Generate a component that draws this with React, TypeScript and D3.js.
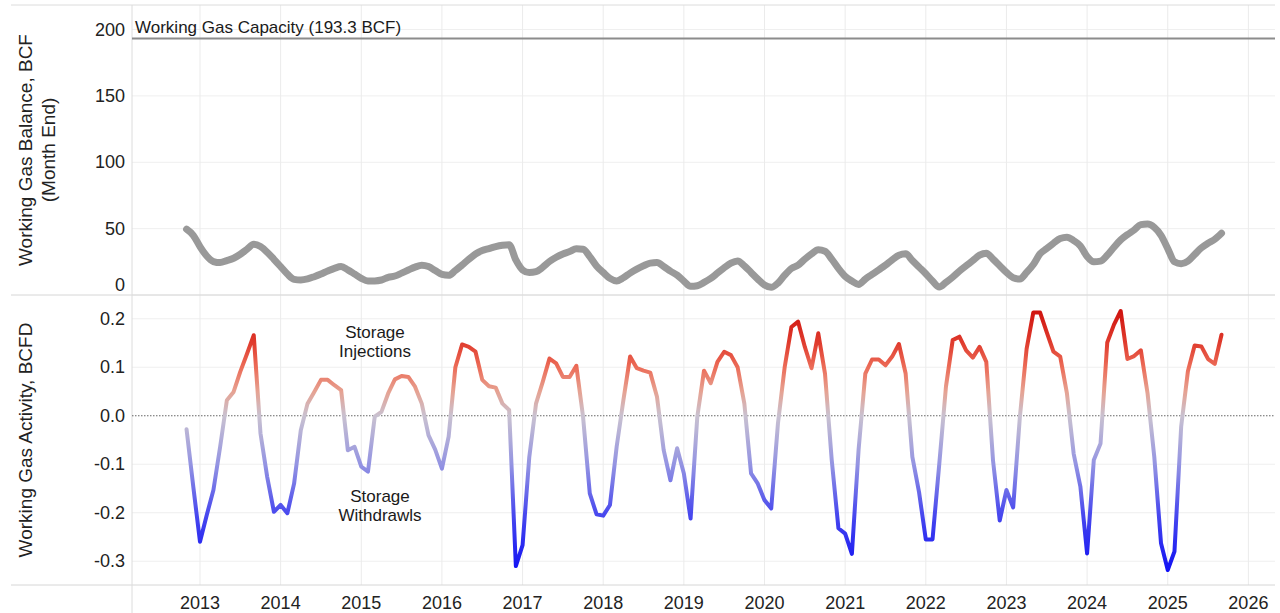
import React from "react";
import * as d3 from "d3";

// ---------- data ----------
const START_YEAR = 2012;
const START_MONTH = 11; // November 2012

// Working gas balance, BCF (month end)
const balance: number[] = [
  49.6, 45, 36.5, 29.4, 25.2, 24.4, 25.9, 27.7, 30.7, 34.5, 38.2, 36.5,
  32.2, 26.9, 21.4, 15.8, 11.8, 11.3, 12.1, 13.8, 15.8, 18.1, 20.1, 21.4,
  18.9, 15.8, 12.6, 10.6, 10.6, 11.3, 13.3, 14.3, 16.5, 18.8, 21, 22.4,
  21.4, 18.4, 15.5, 14.8, 18.4, 22.6, 26.9, 30.9, 33.5, 35, 36.5, 37.5,
  37.9, 26.4, 18.9, 16.9, 17.6, 20.9, 25.2, 28.4, 30.9, 32.7, 34.8, 34.5,
  28.9, 21.9, 17, 12.5, 10.6, 13, 16.5, 19.5, 22, 24, 24.4, 21.5,
  18, 15, 10.5, 6.5, 7, 9.5, 12.5, 16.5, 20.5, 24, 25.7, 22,
  17, 12, 7.5, 5.8, 9, 15, 20, 22.5, 27, 31, 34, 33,
  27, 20, 14, 10.5, 8, 12, 15.5, 19, 22.5, 26.5, 30, 31,
  26, 21, 16, 10.5, 6, 9.5, 13.5, 18, 22, 26, 30, 31.5,
  27, 22, 17, 13, 12, 17, 23, 31, 35, 39, 42.5, 43.5,
  41, 37, 29, 25, 25.5, 30, 36, 41.5, 45.5, 49, 53, 53.5,
  51, 45, 35, 25, 23.5, 25.5, 30.5, 35.5, 39, 42, 46.5,
];

// Working gas activity, BCFD
const activity: number[] = [
  -0.028, -0.146, -0.26, -0.205, -0.153, -0.064, 0.032, 0.049, 0.091, 0.128, 0.166, -0.036,
  -0.126, -0.198, -0.184, -0.201, -0.14, -0.03, 0.025, 0.049, 0.074, 0.074, 0.063, 0.053,
  -0.071, -0.064, -0.105, -0.115, -0.002, 0.008, 0.046, 0.075, 0.082, 0.08, 0.06, 0.025,
  -0.04, -0.07, -0.109, -0.043, 0.1, 0.147, 0.142, 0.132, 0.074, 0.061, 0.058, 0.025,
  0.012, -0.31, -0.267, -0.085, 0.025, 0.07, 0.118, 0.108, 0.08, 0.08, 0.103, -0.002,
  -0.16, -0.203, -0.206, -0.184, -0.064, 0.032, 0.122, 0.098, 0.093, 0.089, 0.039, -0.071,
  -0.133, -0.067, -0.119, -0.212, -0.002, 0.093, 0.067, 0.111, 0.132, 0.125, 0.1, 0.025,
  -0.119, -0.14, -0.174, -0.191, -0.016, 0.1, 0.183, 0.194, 0.142, 0.098, 0.17, 0.087,
  -0.091, -0.232, -0.243, -0.285, -0.07, 0.087, 0.116, 0.116, 0.104, 0.122, 0.148, 0.087,
  -0.085, -0.158, -0.255, -0.255, -0.1, 0.06, 0.156, 0.163, 0.135, 0.12, 0.142, 0.111,
  -0.092, -0.216, -0.153, -0.189, -0.002, 0.138, 0.213, 0.213, 0.172, 0.132, 0.122, 0.046,
  -0.078, -0.146, -0.284, -0.091, -0.057, 0.151, 0.188, 0.216, 0.117, 0.123, 0.135, 0.046,
  -0.085, -0.263, -0.318, -0.28, -0.022, 0.092, 0.145, 0.143, 0.117, 0.107, 0.167,
];

const yearTicks: number[] = [2013, 2014, 2015, 2016, 2017, 2018, 2019, 2020, 2021, 2022, 2023, 2024, 2025, 2026];
const balanceTicks: number[] = [0, 50, 100, 150, 200];
const activityTicks: number[] = [-0.3, -0.2, -0.1, 0.0, 0.1, 0.2];
const CAPACITY = 193.3;
const capacityLabel = "Working Gas Capacity (193.3 BCF)";

// colour ramp for activity (value -> colour)
const rampValues: number[] = [-0.349, -0.3, -0.2, -0.1, 0, 0.05, 0.1, 0.15, 0.249];
const rampColors: string[] = ["#0000ff", "#1a1af2", "#4a4aee", "#9494e2", "#c9c1d0", "#e6a292", "#ec6c58", "#e03c2e", "#c80000"];

// ---------- layout ----------
const W = 1280;
const H = 613;
const LEFT = 132;
const RIGHT = 1275;
const TOP = 5;
const MID = 295;
const BOTTOM = 585;
const FONT = "Arial, 'Liberation Sans', sans-serif";

const dates = activity.map((_, i) => START_YEAR + (START_MONTH - 1 + i) / 12);

export default function App() {
  const x = d3.scaleLinear().domain([2012.157, 2026.33]).range([LEFT, RIGHT]);
  const yTop = d3.scaleLinear().domain([0, 218.5]).range([MID, TOP]);
  const yBot = d3.scaleLinear().domain([-0.349, 0.249]).range([BOTTOM, MID]);

  const balLine = d3
    .line<number>()
    .x((_, i) => x(dates[i]))
    .y((d) => yTop(d))
    .curve(d3.curveMonotoneX);
  const actLine = d3
    .line<number>()
    .x((_, i) => x(dates[i]))
    .y((d) => yBot(d));

  const fmt = (v: number) => d3.format(".1f")(v).replace("\u2212", "-");
  const gy1 = yBot(-0.349);
  const gy2 = yBot(0.249);

  return (
    <svg
      width={W}
      height={H}
      style={{ position: "absolute", left: 0, top: 0, background: "#fff", fontFamily: FONT }}
    >
      <defs>
        <linearGradient id="actGrad" gradientUnits="userSpaceOnUse" x1={0} x2={0} y1={gy1} y2={gy2}>
          {rampValues.map((v, i) => (
            <stop key={i} offset={(yBot(v) - gy1) / (gy2 - gy1)} stopColor={rampColors[i]} />
          ))}
        </linearGradient>
      </defs>
      <rect x={0} y={0} width={W} height={H} fill="#fff" />

      {/* horizontal grid */}
      {balanceTicks.map((t) => (
        <line key={"bg" + t} x1={LEFT} x2={RIGHT} y1={yTop(t)} y2={yTop(t)} stroke="#efefef" strokeWidth={1} />
      ))}
      {activityTicks.filter((t) => t !== 0).map((t) => (
        <line key={"ag" + t} x1={LEFT} x2={RIGHT} y1={yBot(t)} y2={yBot(t)} stroke="#efefef" strokeWidth={1} />
      ))}
      {/* vertical grid */}
      {yearTicks.map((t) => (
        <line key={"vg" + t} x1={x(t)} x2={x(t)} y1={TOP} y2={BOTTOM} stroke="#ebebeb" strokeWidth={1} />
      ))}

      {/* panel borders */}
      <line x1={11} x2={RIGHT} y1={TOP} y2={TOP} stroke="#dcdcdc" strokeWidth={1} />
      <line x1={11} x2={RIGHT} y1={MID} y2={MID} stroke="#d6d6d6" strokeWidth={1} />
      <line x1={11} x2={RIGHT} y1={BOTTOM} y2={BOTTOM} stroke="#d6d6d6" strokeWidth={1} />
      <line x1={LEFT} x2={LEFT} y1={TOP} y2={H} stroke="#dcdcdc" strokeWidth={1} />

      {/* capacity line */}
      <line x1={LEFT} x2={RIGHT} y1={yTop(CAPACITY)} y2={yTop(CAPACITY)} stroke="#8c8c8c" strokeWidth={2} />
      <text x={LEFT + 3} y={yTop(CAPACITY) - 5} fontSize={17} fill="#1a1a1a">
        {capacityLabel}
      </text>

      {/* zero line */}
      <line x1={LEFT} x2={RIGHT} y1={yBot(0)} y2={yBot(0)} stroke="#666" strokeWidth={1} strokeDasharray="1.5,1.5" />

      {/* series */}
      <path d={balLine(balance) || ""} fill="none" stroke="#999" strokeWidth={7} strokeLinejoin="round" strokeLinecap="round" />
      <path d={actLine(activity) || ""} fill="none" stroke="url(#actGrad)" strokeWidth={4} strokeLinejoin="round" strokeLinecap="round" />

      {/* y tick labels */}
      {balanceTicks.map((t) => (
        <text key={"bt" + t} x={125} y={Math.min(yTop(t), MID - 10)} fontSize={18} fill="#222" textAnchor="end" dominantBaseline="central">
          {t}
        </text>
      ))}
      {activityTicks.map((t) => (
        <text key={"at" + t} x={125} y={yBot(t)} fontSize={18} fill="#222" textAnchor="end" dominantBaseline="central">
          {fmt(t)}
        </text>
      ))}

      {/* x tick labels */}
      {yearTicks.map((t) => (
        <text key={"xt" + t} x={x(t)} y={609} fontSize={18} fill="#222" textAnchor="middle">
          {t}
        </text>
      ))}

      {/* axis titles */}
      <g transform="translate(25,150) rotate(-90)">
        <text x={0} y={0} fontSize={19} fill="#222" textAnchor="middle" dominantBaseline="central">
          Working Gas Balance, BCF
        </text>
      </g>
      <g transform="translate(48,150) rotate(-90)">
        <text x={0} y={0} fontSize={19} fill="#222" textAnchor="middle" dominantBaseline="central">
          (Month End)
        </text>
      </g>
      <g transform="translate(25,440) rotate(-90)">
        <text x={0} y={0} fontSize={19} fill="#222" textAnchor="middle" dominantBaseline="central">
          Working Gas Activity, BCFD
        </text>
      </g>

      {/* annotations */}
      <text x={375} y={338} fontSize={17} fill="#1a1a1a" textAnchor="middle">Storage</text>
      <text x={375} y={357} fontSize={17} fill="#1a1a1a" textAnchor="middle">Injections</text>
      <text x={380} y={502} fontSize={17} fill="#1a1a1a" textAnchor="middle">Storage</text>
      <text x={380} y={521} fontSize={17} fill="#1a1a1a" textAnchor="middle">Withdrawls</text>
    </svg>
  );
}
